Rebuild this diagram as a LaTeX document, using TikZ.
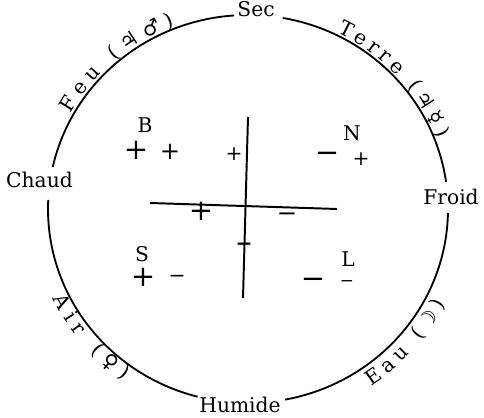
\documentclass[tikz,border=0pt]{standalone}
\usepackage{fontspec}
\setmainfont{DejaVu Serif}
\newfontfamily\astro{DejaVu Sans}
\usetikzlibrary{decorations.text,positioning}
\tikzset{
  rim/.style={line width=1.3pt},
  axe/.style={line width=1.4pt},
  lbl/.style={font=\Large,inner sep=0pt},
  pm/.style={font=\Large,inner sep=0pt},
  pmbig/.style={font=\huge,inner sep=0pt},
  pmmid/.style={font=\LARGE,inner sep=0pt},
  pmsmall/.style={font=\large,inner sep=0pt},
  arcword/.style={decorate,decoration={text along path,text align=fit to path,raise=#1}}
}

\begin{document}
\begin{tikzpicture}[x=0.025cm,y=0.025cm]
  \useasboundingbox (0,0) rectangle (484,418);
  \coordinate (O) at (248,209);
  \draw[rim] (O) ++(8:200 and 194) arc[start angle=8,end angle=80,x radius=200,y radius=194];
  \draw[rim] (O) ++(94:200 and 194) arc[start angle=94,end angle=167.5,x radius=200,y radius=194];
  \draw[rim] (O) ++(177.3:200 and 194) arc[start angle=177.3,end angle=255.4,x radius=200,y radius=194];
  \draw[rim] (O) ++(280.7:200 and 194) arc[start angle=280.7,end angle=358.8,x radius=200,y radius=194];
  \node[lbl,anchor=base] (sec) at (256,401) {Sec};
  \node[lbl,anchor=base] (chaud) at (39.5,230) {Chaud};
  \node[lbl,anchor=base] (froid) at (451,213) {Froid};
  \node[lbl,anchor=base] (humide) at (240,5) {Humide};
  \path[arcword=2pt,decoration={text={|\Large|Feu (|\Large\astro|♃♂|\Large\rmfamily|)}}]
    (O) ++(151:200 and 194) arc[start angle=151,end angle=111,x radius=200,y radius=194];
  \path[arcword=2pt,decoration={text={|\Large|Terre (|\Large\astro|♃☿|\Large\rmfamily|)}}]
    (O) ++(64:200 and 194) arc[start angle=64,end angle=21,x radius=200,y radius=194];
  \path[arcword=-11pt,decoration={text={|\Large|Air (|\Large\astro|♀|\Large\rmfamily|)}}]
    (O) ++(205:200 and 194) arc[start angle=205,end angle=235,x radius=200,y radius=194];
  \path[arcword=-14pt,decoration={text={|\Large|Eau (|\Large\astro|☽|\Large\rmfamily|)}}]
    (O) ++(304:200 and 194) arc[start angle=304,end angle=334,x radius=200,y radius=194];
  \coordinate (hl) at (150,215);
  \coordinate (hr) at (337,209);
  \coordinate (vt) at (248,301);
  \coordinate (vb) at (243,120);
  \draw[axe] (hl) -- (hr);
  \draw[axe] (vt) -- (vb);
  \node[lbl] (B) at (145,293) {B};
  \node[lbl] (N) at (352,285) {N};
  \node[lbl] (S) at (142,164) {S};
  \node[lbl] (L) at (348,159) {L};
  \node[pmbig] (b1) at (136,268) {+};
  \node[pmmid] (b2) at (170,266) {+};
  \node[pm] (b3) at (234,264) {+};
  \node[pmbig] (n1) at (327,261) {−};
  \node[pm] (n2) at (361,259) {+};
  \node[pmbig] (c1) at (201,207) {+};
  \node[pmmid] (c2) at (287,201) {−};
  \node[pm,font=\Large\bfseries] (c3) at (244,171) {−};
  \node[pmbig] (s1) at (143,141) {+};
  \node[pm] (s2) at (177,139) {−};
  \node[pmbig] (l1) at (313,135) {−};
  \node[pmsmall] (l2) at (347,134) {−};
\end{tikzpicture}
\end{document}
